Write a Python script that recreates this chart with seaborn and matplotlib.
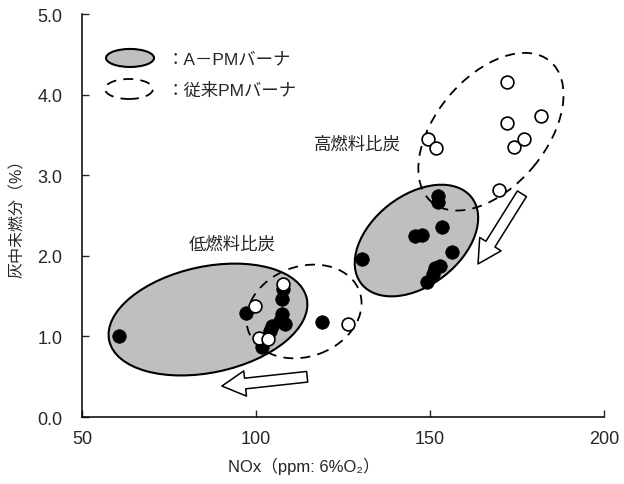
import matplotlib
matplotlib.use("Agg")
import matplotlib.pyplot as plt
import matplotlib.transforms as mtransforms
from matplotlib.patches import Ellipse
import seaborn as sns
import pandas as pd

# A-PM burner (filled markers)
apm_x = [60.5, 97.0, 101.7, 104.0, 104.6, 106.9, 107.5, 108.3, 107.5, 107.8, 119.0,
         130.5, 145.7, 147.7, 149.1, 150.9, 151.5, 153.0, 152.3, 152.3, 153.4, 156.3]
apm_y = [1.00, 1.29, 0.87, 1.07, 1.13, 1.19, 1.28, 1.15, 1.46, 1.59, 1.18,
         1.96, 2.25, 2.26, 1.67, 1.77, 1.85, 1.87, 2.74, 2.67, 2.36, 2.05]

# conventional PM burner (open markers)
conv_x = [107.8, 99.7, 100.9, 103.4, 126.4,
          149.4, 151.7, 169.8, 172.1, 172.1, 174.1, 177.0, 181.9]
conv_y = [1.65, 1.38, 0.98, 0.97, 1.15,
          3.45, 3.34, 2.82, 3.65, 4.16, 3.35, 3.45, 3.73]

x_ticks = [50, 100, 150, 200]
y_ticks = [0.0, 1.0, 2.0, 3.0, 4.0, 5.0]

legend_apm = "：A－PMバーナ"
legend_conv = "：従来PMバーナ"
label_high = "高燃料比炭"
label_low = "低燃料比炭"
x_label = "NOx（ppm: 6%O₂）"
y_label = "灰中未燃分（%）"

sns.set_style("ticks")
plt.rcParams["font.family"] = ["Liberation Sans", "Noto Sans CJK JP", "DejaVu Sans"]

DPI = 100
fig = plt.figure(figsize=(6.24, 4.85), dpi=DPI)
ax = fig.add_axes([0.1314, 0.138, 0.8366, 0.831])

apm = pd.DataFrame({"x": apm_x, "y": apm_y})
conv = pd.DataFrame({"x": conv_x, "y": conv_y})

GRAY = "#bfbfbf"


def screen_ellipse(cx, cy, a_px, b_px, angle, dashed=False, trans=None, z=1):
    """Ellipse with semi-axes in pixels, centred on a point given in `trans` coords."""
    base = trans if trans is not None else ax.transData
    t = fig.dpi_scale_trans + mtransforms.ScaledTranslation(cx, cy, base)
    if dashed:
        e = Ellipse((0, 0), 2 * a_px / DPI, 2 * b_px / DPI, angle=angle,
                    facecolor="none", edgecolor="black", lw=1.3,
                    linestyle=(0, (5.5, 4)), transform=t, zorder=z, clip_on=False)
    else:
        e = Ellipse((0, 0), 2 * a_px / DPI, 2 * b_px / DPI, angle=angle,
                    facecolor=GRAY, edgecolor="black", lw=1.5,
                    transform=t, zorder=z, clip_on=False)
    ax.add_patch(e)


# grouping ellipses
screen_ellipse(86.2, 1.21, 101, 53, 12)
screen_ellipse(146.1, 2.19, 70, 45, 38)
screen_ellipse(113.8, 1.31, 59, 45, 20, dashed=True, z=2)
screen_ellipse(167.5, 3.54, 92, 55, 50, dashed=True, z=2)

sns.scatterplot(data=apm, x="x", y="y", ax=ax, s=95, color="black",
                edgecolor="black", linewidth=0.5, zorder=4, legend=False)
sns.scatterplot(data=conv, x="x", y="y", ax=ax, s=85, color="white",
                edgecolor="black", linewidth=1.2, zorder=5, legend=False)

# hollow direction arrows
arrow_style = "simple,head_length=1.2,head_width=1.3,tail_width=0.55"
ax.annotate("", xy=(90.2, 0.385), xytext=(114.7, 0.50),
            arrowprops=dict(arrowstyle=arrow_style, fc="white", ec="black",
                            lw=1.1, mutation_scale=14, shrinkA=0, shrinkB=0),
            zorder=3)
ax.annotate("", xy=(163.8, 1.90), xytext=(176.4, 2.77),
            arrowprops=dict(arrowstyle=arrow_style, fc="white", ec="black",
                            lw=1.1, mutation_scale=14, shrinkA=0, shrinkB=0),
            zorder=3)

# legend built from sample ellipses
screen_ellipse(0.092, 0.891, 24, 9, 0, trans=ax.transAxes)
screen_ellipse(0.090, 0.814, 24, 10, 0, dashed=True, trans=ax.transAxes)
ax.text(0.163, 0.889, legend_apm, transform=ax.transAxes, fontsize=12.5,
        ha="left", va="center")
ax.text(0.163, 0.812, legend_conv, transform=ax.transAxes, fontsize=12.5,
        ha="left", va="center")

ax.text(129.0, 3.39, label_high, fontsize=12.5, ha="center", va="center")
ax.text(93.1, 2.16, label_low, fontsize=12.5, ha="center", va="center")

ax.set_xlim(50, 200)
ax.set_ylim(0, 5)
ax.set_xticks(x_ticks)
ax.set_yticks(y_ticks)
ax.set_yticklabels([f"{v:.1f}" for v in y_ticks])
ax.tick_params(direction="in", length=5, width=1, labelsize=13)
ax.tick_params(axis="y", pad=14)
ax.tick_params(axis="x", pad=9)
ax.set_xlabel(x_label, fontsize=12)
ax.set_ylabel(y_label, fontsize=11.5)
ax.xaxis.set_label_coords(0.425, -0.099)
ax.yaxis.set_label_coords(-0.109, 0.504)
sns.despine(ax=ax)
for sp in ("left", "bottom"):
    ax.spines[sp].set_linewidth(1.1)
    ax.spines[sp].set_color("black")

fig.savefig("out.png", dpi=DPI)
